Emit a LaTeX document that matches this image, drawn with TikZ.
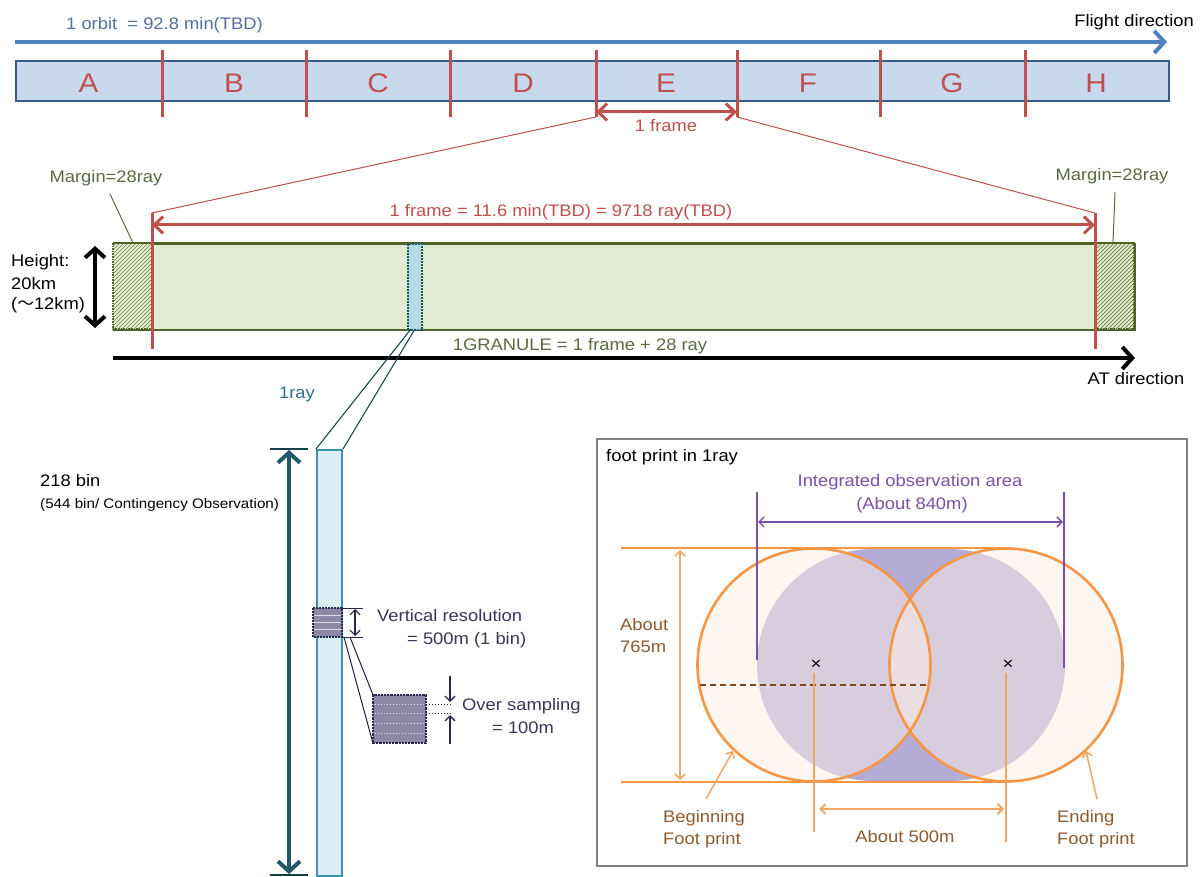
\documentclass[tikz,border=0pt]{standalone}
\usepackage{fontspec}
\setmainfont{Liberation Sans}[FakeStretch=1.1]
\newfontfamily\cjkf{Noto Sans CJK JP}
\usetikzlibrary{arrows.meta}
\definecolor{blueL}{HTML}{4F81BD}
\definecolor{orbitT}{HTML}{56709A}
\definecolor{barF}{HTML}{C8D9EE}
\definecolor{barB}{HTML}{385D8A}
\definecolor{redc}{HTML}{C0504D}
\definecolor{greenF}{HTML}{E2ECD1}
\definecolor{greenB}{HTML}{4F6228}
\definecolor{oliveT}{HTML}{5C6B42}
\definecolor{hatchc}{HTML}{6E8040}
\definecolor{rayF}{HTML}{B4DCE6}
\definecolor{rayB}{HTML}{1F5A5C}
\definecolor{tealT}{HTML}{31708A}
\definecolor{colF}{HTML}{DAEEF3}
\definecolor{colB}{HTML}{3D93AB}
\definecolor{colA}{HTML}{215968}
\definecolor{binF}{HTML}{8D88A6}
\definecolor{binB}{HTML}{2B2850}
\definecolor{navyT}{HTML}{3A3856}
\definecolor{orangeC}{HTML}{F79646}
\definecolor{orangeL}{HTML}{EFA766}
\definecolor{creamF}{HTML}{FCEFE4}
\definecolor{purpF}{HTML}{B4ACD4}
\definecolor{purpT}{HTML}{7A52A6}
\definecolor{brownT}{HTML}{8E5B2E}
\definecolor{brownD}{HTML}{7F4B1E}
\tikzset{
  txt/.style={inner sep=0pt, font=\fontsize{16.7}{20}\selectfont},
  small/.style={inner sep=0pt, font=\fontsize{13.8}{16}\selectfont},
  letter/.style={inner sep=0pt, text=redc, font=\fontsize{27}{30}\selectfont},
  openbarb/.tip={Straight Barb[length=9pt,width=17pt]},
  thinbarb/.tip={Straight Barb[length=5pt,width=10pt]},
}
\begin{document}
\begin{tikzpicture}[x=1pt,y=-1pt]
\useasboundingbox (0,0) rectangle (1202,877);
\fill[white] (0,0) rectangle (1202,877);

% ---------------- top: orbit ----------------
\coordinate (orbS) at (15,42);
\coordinate (orbE) at (1167,42);
\draw[blueL, line width=4pt, -{Straight Barb[length=10pt,width=22pt]}] (orbS) -- (orbE);
\node[txt, text=orbitT, anchor=west] (orbit) at (66,25) {1 orbit~ = 92.8 min(TBD)};
\node[txt, anchor=east] (flight) at (1194,22) {Flight direction};

\node[draw=barB, fill=barF, line width=2pt, minimum width=1153pt, minimum height=40pt,
      inner sep=0pt, anchor=north west] (bar) at (15,60) {};
\foreach \x in {162,306,450,596,737,880,1025}
  \draw[redc, line width=3pt] (\x,50) -- (\x,117);
\foreach \l/\x in {A/88.5,B/234,C/378,D/523,E/666,F/808,G/952,H/1096}
  \node[letter] (L\l) at (\x,83) {\l};

\coordinate (fL) at (596,112);
\coordinate (fR) at (737,112);
\draw[redc, line width=3pt, openbarb-openbarb] (fL) -- (fR);
\node[txt, text=redc] (oneframe) at (666,126) {1 frame};
\coordinate (fLb) at (596,117);
\coordinate (fRb) at (737,117);

% ---------------- middle: granule ----------------
\node[draw=greenB, fill=greenF, line width=2pt, minimum width=1021pt, minimum height=86pt,
      inner sep=0pt, anchor=north west] (gran) at (113,243) {};
% hatched margins
\foreach \xa/\xb in {113/152,1095/1134}{
  \begin{scope}
    \clip (\xa,243) rectangle (\xb,329);
    \fill[greenF] (\xa,243) rectangle (\xb,329);
    \foreach \i in {0,...,34}
      \draw[hatchc, line width=0.7pt] (\xa-90+4*\i,332) -- ++(96,-96);
  \end{scope}
  \draw[greenB, densely dotted, line width=1.6pt] (\xa,243) rectangle (\xb,329);
}
\draw[greenB, line width=2pt] (113,243) -- (1134,243);

\coordinate (rl1) at (152,213);
\coordinate (rl2) at (152,349);
\coordinate (rr1) at (1095,213);
\coordinate (rr2) at (1095,349);
\draw[redc, line width=3pt] (rl1) -- (rl2);
\draw[redc, line width=3pt] (rr1) -- (rr2);
\draw[redc, line width=1pt] (fLb) -- (rl1);
\draw[redc, line width=1pt] (fRb) -- (rr1);
\coordinate (faL) at (152,225);
\coordinate (faR) at (1095,225);
\draw[redc, line width=3pt, openbarb-openbarb] (faL) -- (faR);
\node[txt, text=redc] (frameT) at (561,212) {1 frame = 11.6 min(TBD) = 9718 ray(TBD)};

\node[txt, text=oliveT] (margL) at (106,178) {Margin=28ray};
\node[txt, text=oliveT] (margR) at (1112,176) {Margin=28ray};
\coordinate (mlA) at (110,194);
\coordinate (mlB) at (133,243);
\coordinate (mrA) at (1115,192);
\coordinate (mrB) at (1113,243);
\draw[oliveT, line width=1pt] (mlA) -- (mlB);
\draw[oliveT, line width=1pt] (mrA) -- (mrB);

\coordinate (hT) at (95,246);
\coordinate (hB) at (95,328);
\draw[black, line width=4pt, {Straight Barb[length=9pt,width=20pt]}-{Straight Barb[length=9pt,width=20pt]}] (hT) -- (hB);
\node[txt, anchor=west] (hgt1) at (11,262) {Height:};
\node[txt, anchor=west] (hgt2) at (11,284) {20km};
\node[txt, anchor=west] (hgt3) at (11,305) {({\cjkf ～}12km)};

% small ray in granule
\node[draw=rayB, fill=rayF, densely dotted, line width=2pt, minimum width=14pt, minimum height=86pt,
      inner sep=0pt, anchor=north west] (sray) at (407,243) {};

\coordinate (atS) at (113,358);
\coordinate (atE) at (1135,358);
\draw[black, line width=4pt, -{Straight Barb[length=10pt,width=22pt]}] (atS) -- (atE);
\node[txt] (atT) at (1136,379) {AT direction};
\node[txt, text=oliveT] (granT) at (580,346) {1GRANULE = 1 frame + 28 ray};

% ---------------- lower left: ray column ----------------
\node[txt, text=tealT] (rayT) at (297,394) {1ray};
\node[draw=colB, fill=colF, line width=2pt, minimum width=25pt, minimum height=426pt,
      inner sep=0pt, anchor=north west] (col) at (316,449) {};
\coordinate (sr1) at (411,329);
\coordinate (sr2) at (415,329);
\draw[rayB!80!black, line width=1.1pt] (sr1) -- (col.north west);
\draw[rayB!80!black, line width=1.1pt] (sr2) -- (col.north east);

\coordinate (tk1a) at (270,449);
\coordinate (tk1b) at (308,449);
\coordinate (tk2a) at (270,875);
\coordinate (tk2b) at (308,875);
\draw[colA!70!black, line width=1.5pt] (tk1a) -- (tk1b);
\draw[colA!70!black, line width=1.5pt] (tk2a) -- (tk2b);
\coordinate (baT) at (289,450);
\coordinate (baB) at (289,874);
\draw[colA, line width=4pt, {Straight Barb[length=10pt,width=22pt]}-{Straight Barb[length=10pt,width=22pt]}] (baT) -- (baB);
\node[txt, anchor=west] (bin1) at (40,481) {218 bin};
\node[small, anchor=west] (bin2) at (40,505) {(544 bin/ Contingency Observation)};

% vertical resolution box
\node[fill=binF, minimum width=29pt, minimum height=29pt, inner sep=0pt, anchor=north west] (vbox) at (313,608) {};
\foreach \y in {615,622,629}
  \draw[white!70!binF, line width=0.6pt] (313,\y) -- (342,\y);
\draw[binB, densely dotted, line width=2pt] (313,608) rectangle (342,637);
\coordinate (vt1) at (342,608);
\coordinate (vt2) at (363,608);
\coordinate (vb1) at (342,637);
\coordinate (vb2) at (363,637);
\draw[binB, line width=1pt] (vt1) -- (vt2);
\draw[binB, line width=1pt] (vb1) -- (vb2);
\coordinate (va1) at (355,609);
\coordinate (va2) at (355,636);
\draw[binB, line width=1.2pt, thinbarb-thinbarb] (va1) -- (va2);
\node[txt, text=navyT, anchor=west] (vres1) at (377,616) {Vertical resolution};
\node[txt, text=navyT, anchor=west] (vres2) at (407,640) {= 500m (1 bin)};

% over sampling box
\node[fill=binF, minimum width=53pt, minimum height=48pt, inner sep=0pt, anchor=north west] (obox) at (373,695) {};
\coordinate (vc1) at (344,637);
\coordinate (vc2) at (350,637);
\draw[binB!80!black, line width=1pt] (vc1) -- (obox.south west);
\draw[binB!80!black, line width=1pt] (vc2) -- (obox.north west);
\foreach \y in {704,713,723,733}
  \draw[white!75!binF, dotted, line width=1pt] (375,\y) -- (424,\y);
\draw[binB, densely dotted, line width=2.2pt] (373,695) rectangle (426,743);
\coordinate (od1) at (426,704);
\coordinate (od1e) at (451,704);
\coordinate (od2) at (426,713);
\coordinate (od2e) at (451,713);
\draw[binB, dotted, line width=1pt] (od1) -- (od1e);
\draw[binB, dotted, line width=1pt] (od2) -- (od2e);
\coordinate (dA) at (450,676);
\coordinate (dB) at (450,702);
\coordinate (uA) at (450,744);
\coordinate (uB) at (450,715);
\draw[binB, line width=1.3pt, -thinbarb] (dA) -- (dB);
\draw[binB, line width=1.3pt, -thinbarb] (uA) -- (uB);
\node[txt, text=navyT, anchor=west] (ovs1) at (462,706) {Over sampling};
\node[txt, text=navyT, anchor=west] (ovs2) at (492,728) {= 100m};

% ---------------- footprint box ----------------
\node[draw=black!50, line width=1.5pt, minimum width=590pt, minimum height=427pt,
      inner sep=0pt, anchor=north west] (fpbox) at (596,438) {};
\node[txt, anchor=west] (fpT) at (606,457) {foot print in 1ray};

% integrated area (purple)
\fill[purpF] (873,665) circle[radius=116];
\fill[purpF] (949,665) circle[radius=116];
\fill[purpF] (873,549) rectangle (949,781);

% top / bottom tangent lines
\coordinate (tl1) at (621,548);
\coordinate (tl2) at (1006,548);
\coordinate (bl1) at (621,782);
\coordinate (bl2) at (1006,782);
\draw[orangeC, line width=1.6pt] (tl1) -- (tl2);
\draw[orangeC, line width=1.6pt] (bl1) -- (bl2);

% footprints
\fill[creamF, fill opacity=0.5] (814,665) circle[radius=116.5];
\fill[creamF, fill opacity=0.5] (1006,665) circle[radius=116.5];
\draw[orangeC, line width=2.6pt] (814,665) circle[radius=116.5];
\draw[orangeC, line width=2.6pt] (1006,665) circle[radius=116.5];

% purple dimension
\coordinate (pv1a) at (757,492);
\coordinate (pv1b) at (757,660);
\coordinate (pv2a) at (1064,492);
\coordinate (pv2b) at (1064,668);
\draw[purpT, line width=1.5pt] (pv1a) -- (pv1b);
\draw[purpT, line width=1.5pt] (pv2a) -- (pv2b);
\coordinate (paL) at (758,522);
\coordinate (paR) at (1063,522);
\draw[purpT, line width=1.5pt, thinbarb-thinbarb] (paL) -- (paR);
\node[txt, text=purpT] (intT1) at (910,482) {Integrated observation area};
\node[txt, text=purpT] (intT2) at (912,505) {(About 840m)};

% 765 m
\coordinate (h7a) at (680,550);
\coordinate (h7b) at (680,780);
\draw[orangeL, line width=1.5pt, thinbarb-thinbarb] (h7a) -- (h7b);
\node[txt, text=brownT, anchor=west] (ab1) at (620,625) {About};
\node[txt, text=brownT, anchor=west] (ab2) at (620,647) {765m};

% dashed diameter
\coordinate (dd1) at (700,685);
\coordinate (dd2) at (929,685);
\draw[brownD, line width=2pt, dash pattern=on 6pt off 4pt] (dd1) -- (dd2);

% centres
\node[inner sep=0pt, font=\fontsize{17}{17}\selectfont] (c1) at (816,665) {×};
\node[inner sep=0pt, font=\fontsize{17}{17}\selectfont] (c2) at (1008,665) {×};
\coordinate (c1d) at (814,832);
\coordinate (c2d) at (1006,842);
\draw[orangeL, line width=1.2pt] (814,673) -- (c1d);
\draw[orangeL, line width=1.2pt] (1006,673) -- (c2d);
\coordinate (a5L) at (819,809);
\coordinate (a5R) at (1004,809);
\draw[orangeL, line width=2pt, thinbarb-thinbarb] (a5L) -- (a5R);
\node[txt, text=brownT] (a500) at (905,837) {About 500m};

% beginning / ending
\coordinate (bgA) at (706,799);
\coordinate (bgB) at (733,751);
\draw[orangeL, line width=1.5pt, -thinbarb] (bgA) -- (bgB);
\node[txt, text=brownT, anchor=west] (bg1) at (663,818) {Beginning};
\node[txt, text=brownT, anchor=west] (bg2) at (663,840) {Foot print};
\coordinate (enA) at (1097,799);
\coordinate (enB) at (1086,751);
\draw[orangeL, line width=1.5pt, -thinbarb] (enA) -- (enB);
\node[txt, text=brownT, anchor=west] (en1) at (1057,818) {Ending};
\node[txt, text=brownT, anchor=west] (en2) at (1057,840) {Foot print};
\end{tikzpicture}
\end{document}
